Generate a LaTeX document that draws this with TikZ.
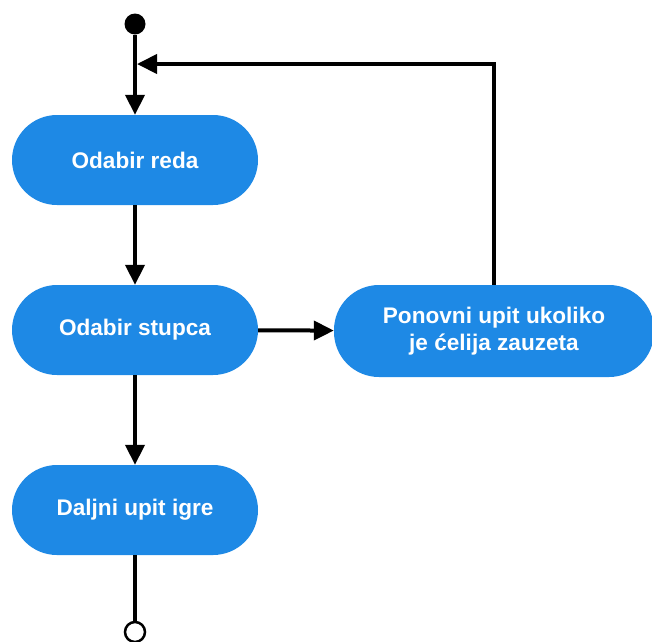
\documentclass[tikz,border=0pt]{standalone}
\usepackage{fontspec}
\setmainfont{Liberation Sans}
\usetikzlibrary{arrows.meta}
\definecolor{actblue}{RGB}{30,137,229}

\begin{document}
\begin{tikzpicture}[x=1pt,y=1pt,
    activity/.style={rectangle,fill=actblue,text=white,rounded corners=45pt,
      minimum width=246pt,minimum height=90pt,align=center,
      font=\fontsize{22.6}{27}\selectfont\bfseries},
    flow/.style={line width=4pt,-{Triangle[length=20pt,width=19pt]}}]
    \useasboundingbox (0,0) rectangle (652,-641);
    % start and end
    \node[circle,fill=black,inner sep=0pt,minimum size=21pt] (start) at (135,-24) {};
    \node[circle,draw=black,fill=white,line width=2.5pt,inner sep=0pt,minimum size=20pt] (stop) at (135,-632) {};
    \coordinate (merge) at (137,-64);
    % activities
    \node[activity] (red) at (135,-160) {Odabir reda};
    \node[activity] (stupac) at (135,-330) {Odabir stupca};
    \node[activity] (upit) at (135,-510) {Daljni upit igre};
    \node[activity,minimum width=320pt,minimum height=92pt] (ponovni) at (494,-331)
      {Ponovni upit ukoliko\\je ćelija zauzeta};
    % flows
    \draw[flow] (start) -- (red);
    \draw[flow] (red) -- (stupac);
    \draw[flow] (stupac) -- (upit);
    \draw[flow] (stupac) -- (ponovni);
    \draw[flow] (ponovni.north) |- (merge);
    \draw[line width=4pt] (upit) -- (stop);
\end{tikzpicture}
\end{document}
